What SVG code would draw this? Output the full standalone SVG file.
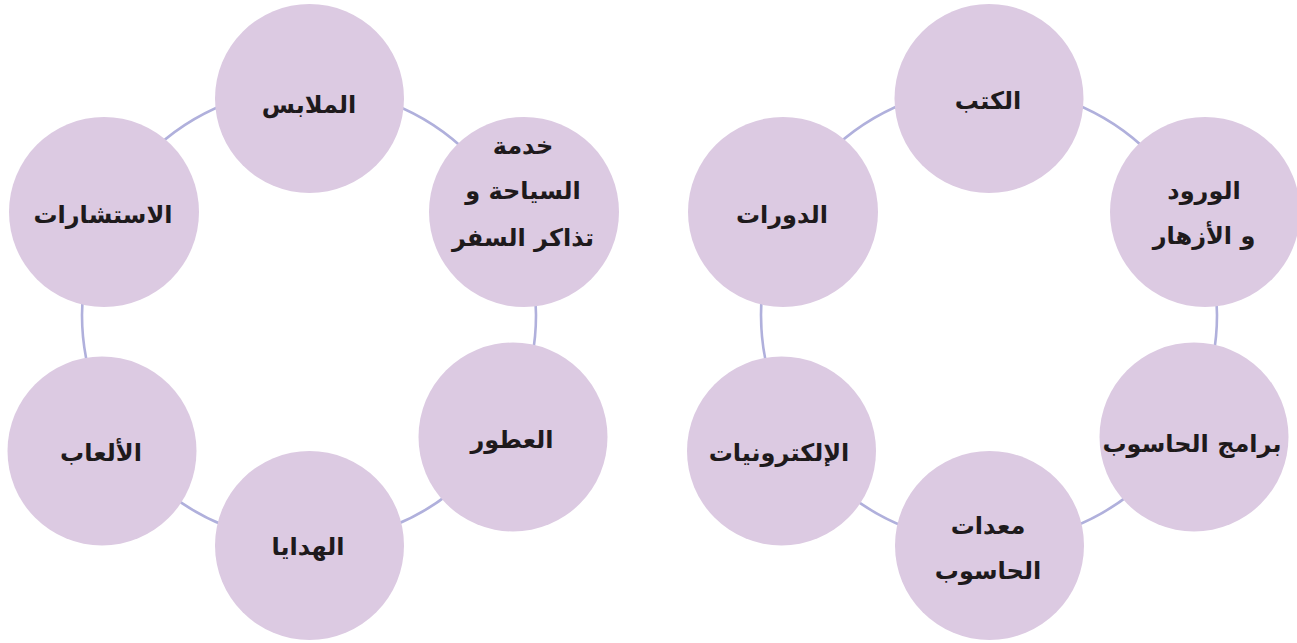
<svg xmlns="http://www.w3.org/2000/svg" width="1297" height="643" viewBox="0 0 1297 643">
<style>
.ring{fill:none;stroke:#b0b0dc;stroke-width:2.6}
.node{fill:#dccae2;stroke:none}
.lbl{font-family:"DejaVu Sans","Noto Sans",sans-serif;font-weight:bold;font-size:24px;fill:#1e1a1c;text-anchor:middle;direction:rtl}
</style>
<rect width="1297" height="643" fill="#ffffff"/>
<g id="connectors">
<circle class="ring" cx="309" cy="315" r="227"/>
<circle class="ring" cx="989" cy="315" r="228"/>
</g>
<g id="n-malabis"><circle class="node" cx="309.5" cy="98.5" r="94.5"/><text class="lbl" x="309" y="113">الملابس</text></g>
<g id="n-siyaha"><circle class="node" cx="524" cy="212" r="95"/><text class="lbl" x="523" y="154">خدمة</text><text class="lbl" x="523" y="199">السياحة و</text><text class="lbl" x="523" y="246">تذاكر السفر</text></g>
<g id="n-otour"><circle class="node" cx="513" cy="437" r="94.5"/><text class="lbl" x="512" y="448">العطور</text></g>
<g id="n-hadaya"><circle class="node" cx="309.5" cy="545.5" r="94.5"/><text class="lbl" x="308" y="555">الهدايا</text></g>
<g id="n-alaab"><circle class="node" cx="102" cy="451" r="94.5"/><text class="lbl" x="101" y="461">الألعاب</text></g>
<g id="n-istisharat"><circle class="node" cx="104" cy="212" r="95"/><text class="lbl" x="103" y="223">الاستشارات</text></g>
<g id="n-kutub"><circle class="node" cx="989" cy="98.5" r="94.5"/><text class="lbl" x="988" y="109">الكتب</text></g>
<g id="n-wurud"><circle class="node" cx="1205" cy="212" r="95"/><text class="lbl" x="1204" y="199">الورود</text><text class="lbl" x="1204" y="244">و الأزهار</text></g>
<g id="n-baramij"><circle class="node" cx="1194" cy="437" r="94.5"/><text class="lbl" x="1192" y="452">برامج الحاسوب</text></g>
<g id="n-muidat"><circle class="node" cx="989.5" cy="545.5" r="94.5"/><text class="lbl" x="988" y="534">معدات</text><text class="lbl" x="988" y="579">الحاسوب</text></g>
<g id="n-electroniat"><circle class="node" cx="781.5" cy="451" r="94.5"/><text class="lbl" x="779" y="461">الإلكترونيات</text></g>
<g id="n-dawrat"><circle class="node" cx="783" cy="212" r="95"/><text class="lbl" x="782" y="223">الدورات</text></g>
</svg>
